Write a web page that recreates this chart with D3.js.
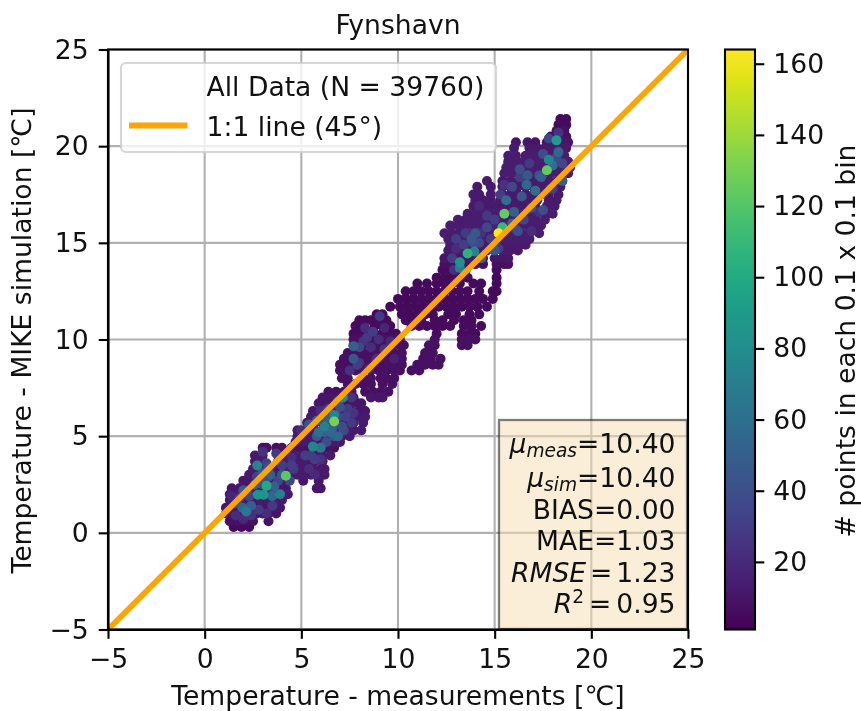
<!DOCTYPE html>
<html>
<head>
<meta charset="utf-8">
<script src="https://cdn.jsdelivr.net/npm/d3@7"></script>
<style>
  html, body { margin: 0; padding: 0; background: #fff; overflow: hidden; }
  svg { display: block; filter: blur(0.5px); }
  text { font-family: "DejaVu Sans", sans-serif; fill: #111; }
</style>
</head>
<body>
<div id="chart"></div>
<script>
// sparse bins, one row per simulated temperature
const rowY = [0.3,0.6,1.0,1.3,1.7,2.0,2.3,2.7,3.0,3.3,3.7,4.0,4.4,4.7,5.0,5.3,5.7,6.0,6.3,6.7,7.0,7.3,7.7,8.0,8.4,8.7,9.0,9.3,9.7,10.0,10.3,10.7,11.0,11.3,11.7,12.1,12.5,12.9,13.2,13.6,13.9,14.2,14.6,14.9,15.2,15.5,15.9,16.2,16.5,16.9,17.2,17.5,17.9,18.2,18.6,18.9,19.2,19.5,19.9,20.2,20.5,20.8,21.1,21.4];
const rowCount = [5,8,10,10,12,12,10,10,12,12,12,12,8,12,12,12,12,12,10,10,10,8,8,8,8,8,8,8,8,8,6,6,6,5,5,5,5,5,5,6,8,10,12,12,14,14,14,14,14,12,12,12,12,12,14,14,14,14,12,10,8,8,6,5];
const rowX = [
  [1.5,1.9,2.3],
  [1.3,1.7,2.1,2.5,3.3],
  [1.1,1.5,1.9,2.3,2.7,3.0,3.3,3.7],
  [1.1,1.5,1.9,2.3,2.7,3.1,3.5,3.9],
  [1.3,1.7,2.1,2.5,2.9,3.3,3.7,4.0],
  [1.3,1.7,2.1,2.5,2.9,3.3,3.7,4.1,4.3],
  [1.4,1.8,2.2,2.6,3.0,3.4,3.8,4.2,5.8,6.0],
  [2.0,2.3,2.7,3.1,3.5,3.9,4.3,5.1,5.9],
  [2.3,2.6,3.0,3.4,3.8,4.2,4.6,4.8,5.1,5.5,5.9,6.2],
  [2.5,2.9,3.3,3.7,4.1,4.5,4.9,5.2,5.6,6.0,6.2],
  [2.6,3.0,3.8,4.2,4.6,5.0,5.3,5.7,6.1],
  [2.6,3.0,3.8,4.2,4.6,5.0,5.3,5.7,6.1,6.5],
  [3.0,3.2,3.7,4.0,4.5,4.9,5.2,5.6,6.0,6.4,6.7],
  [4.7,5.0,5.4,5.8,6.2,6.6,7.0],
  [4.8,5.1,5.5,5.9,6.3,6.7,7.1,7.5],
  [4.8,5.3,5.7,6.1,6.5,6.9,7.3,7.7,8.1],
  [5.3,5.7,6.1,6.5,6.9,7.3,7.7,8.2],
  [5.5,5.9,6.3,6.7,7.1,7.5,7.9,8.3],
  [5.6,6.0,6.4,6.8,7.2,7.6,8.0,8.3],
  [5.9,6.3,6.7,7.1,7.5,7.9,8.1],
  [6.1,6.5,6.9,7.3,7.7,8.6,9.0,9.2],
  [6.4,6.8,7.2,7.6,8.3,8.7,9.1,9.5],
  [7.4,7.8,8.2,8.6,9.2,9.7],
  [7.1,7.4,8.2,8.6,9.1,9.4,9.8],
  [7.0,7.4,7.8,8.2,8.6,9.0,9.4,9.8,10.1,10.7,11.1],
  [7.0,7.4,7.8,8.2,8.6,9.0,9.4,9.8,10.2,11.0,11.4,11.8,12.1],
  [7.2,7.6,8.0,8.4,8.8,9.2,9.6,10.0,10.2,11.3,11.7,12.2],
  [7.4,7.8,8.2,8.6,9.0,9.4,9.8,10.2,11.4,11.8],
  [7.7,8.1,8.5,8.9,9.3,9.7,10.1,10.3,11.6,11.9,13.3,13.6],
  [7.7,8.1,8.5,8.9,9.3,9.7,10.1,11.9,13.3,13.7,14.0],
  [7.7,8.0,8.4,8.8,9.2,9.6,9.9,12.0,13.3,13.7,14.0],
  [7.8,8.1,8.8,9.2,9.6,10.7,11.1,11.5,11.9,12.3,12.7,13.4,13.8,14.3],
  [8.0,8.3,8.6,9.0,9.4,10.4,10.8,11.2,11.9,12.3,12.9,13.4,13.8],
  [8.9,9.2,10.2,10.6,11.0,11.4,11.8,12.6,13.0,13.7,14.2],
  [9.6,10.1,10.5,10.9,11.3,11.7,12.1,12.5,12.9,13.3,13.7,14.1,14.6],
  [10.0,10.4,10.8,11.2,11.6,12.0,12.4,12.8,13.2,13.6,14.0,14.4,14.9],
  [10.4,10.8,11.2,11.6,12.0,12.4,12.8,13.2,13.6,14.2,14.9,15.1],
  [11.0,11.5,12.0,12.4,12.8,13.2,13.9,14.3,15.1],
  [12.0,12.4,12.8,13.2,13.6,15.1],
  [12.3,12.7,13.1,13.5,15.1],
  [12.4,12.8,13.2,13.6,14.0,14.4,15.1,15.5,15.7],
  [12.4,12.8,13.2,13.6,14.0,14.4,15.0,15.4,15.7],
  [12.6,13.0,13.4,13.8,14.2,14.6,15.0,15.4,15.8,16.2],
  [12.7,13.1,13.5,13.9,14.3,14.7,15.1,15.5,15.9,16.3,16.6],
  [12.6,13.0,13.4,13.8,14.2,14.6,15.0,15.4,15.8,16.2,16.6,16.8],
  [12.4,12.8,13.2,13.6,14.0,14.4,14.8,15.2,15.6,16.0,16.4,16.8,17.3],
  [12.7,13.1,13.5,13.9,14.3,14.7,15.1,15.5,15.9,16.3,16.7,17.1,17.4],
  [13.1,13.5,13.9,14.3,14.7,15.1,15.5,15.9,16.3,16.7,17.1,17.6],
  [13.6,14.0,14.4,14.8,15.2,15.6,16.0,16.4,16.8,17.2,17.7,18.0],
  [13.9,14.3,14.7,15.1,15.5,15.9,16.3,16.7,17.1,17.7,18.1],
  [14.0,14.4,14.8,15.3,15.7,16.1,16.5,16.9,17.2,17.8,18.2],
  [13.9,14.2,14.8,15.4,15.8,16.2,16.6,17.0,17.4,17.8,18.3],
  [14.1,14.8,15.4,15.8,16.2,16.6,17.0,17.4,17.8,18.2,18.4],
  [14.6,15.4,15.8,16.2,16.6,17.0,17.4,17.8,18.2,18.5],
  [15.5,15.9,16.3,16.7,17.1,17.5,17.9,18.3,18.8],
  [15.6,16.0,16.4,16.8,17.2,17.6,18.0,18.4,18.9],
  [15.7,16.1,16.5,16.9,17.3,17.7,18.1,18.5,18.8],
  [15.7,16.1,16.6,17.0,17.4,17.8,18.2,18.6],
  [16.0,16.8,17.2,17.6,18.0,18.4,18.7],
  [16.1,16.7,17.1,17.7,18.1,18.5,18.8],
  [17.9,18.3,18.7],
  [18.2,18.6],
  [18.3,18.7],
  [18.4,18.7]
];

const peakX = [4.2,3.2,2.75,3.05,2.72,3.9,2.15,1.95,2.4,3.5,3.6,2.9,3.3,4.0,1.7,2.0,2.6,3.4,3.0,4.5,4.4,
  6.7,6.7,5.6,6.0,6.2,7.15,5.9,6.5,6.9,5.4,6.3,6.7,7.0,5.8,5.2,5.7,6.9,7.4,7.7,
  7.7,7.7,8.0,8.7,9.05,8.4,9.3,7.9,8.9,
  15.2,15.5,15.4,17.7,18.2,13.6,13.2,13.2,13.95,16.65,17.1,17.8,14.3,13.8,14.0,15.6,16.0,15.0,15.9,16.4,17.4,18.0,18.3,16.9,17.5,16.2,14.6,13.4,14.2,15.2,16.7,18.5,17.9,13.0,12.9,16.3,
  1.6,2.0,2.4,2.8,3.2,3.5,1.8,2.3,3.5,3.0,2.7,3.3,3.8,4.0,3.2,3.7,4.6,4.5,3.0,1.4,
  5.4,5.7,5.5,6.0,5.0,5.8,6.3,6.6,7.2,7.6,7.3,6.9,6.4,6.0,7.6,7.1,6.2,
  8.2,8.6,9.0,8.0,7.5,8.5,9.6,8.3,9.3,9.8,
  12.8,13.0,13.5,14.3,14.6,15.0,13.9,14.8,15.9,16.3,16.8,17.3,17.5,18.2,18.5,18.0,17.3,16.5,16.1,16.9,15.5,15.3,14.2,18.3,17.8];
const peakY = [2.95,2.44,1.97,1.97,3.48,2.0,1.1,1.3,1.4,1.9,2.4,2.8,3.4,3.0,1.5,2.2,2.5,3.0,3.1,3.5,2.7,
  5.76,6.1,4.46,4.4,5.5,7.0,5.2,5.2,5.0,5.6,5.9,5.0,6.5,5.8,4.0,3.8,6.0,6.4,6.2,
  9.65,9.0,9.6,10.4,11.2,10.1,9.5,8.7,9.0,
  15.5,16.5,15.8,18.75,20.3,14.45,14.0,13.7,14.55,18.0,17.7,19.3,14.2,15.2,15.5,17.2,16.6,14.6,16.0,17.4,18.4,19.0,19.7,16.8,16.7,15.6,15.8,14.9,15.0,14.7,18.5,18.2,17.8,14.7,13.6,18.8,
  0.9,0.7,0.9,1.2,1.0,1.4,1.8,1.9,2.3,2.5,2.9,2.9,2.7,3.5,3.6,4.1,3.3,3.9,4.2,1.9,
  3.3,3.0,4.0,3.8,5.3,5.0,4.7,5.4,5.3,5.7,6.0,6.8,6.4,6.3,7.0,5.5,5.2,
  9.9,9.6,10.0,8.8,8.4,8.5,9.9,10.6,10.6,9.0,
  14.2,15.2,15.5,15.5,16.4,16.2,15.0,15.2,17.9,18.4,19.1,18.5,19.6,19.4,19.1,17.8,16.6,16.2,15.7,15.6,18.0,17.5,16.9,20.7,20.4];
const peakCount = [123,100,85,85,75,70,65,55,50,55,50,45,40,45,35,45,50,50,45,30,35,
  130,75,75,65,70,80,60,55,55,45,50,45,40,45,30,30,35,28,25,
  50,45,35,30,28,28,25,30,22,
  164,125,110,125,90,105,85,70,75,55,60,75,55,45,45,60,50,45,50,45,50,60,55,40,40,40,35,30,35,30,45,50,35,22,25,40,
  22,20,25,28,22,28,30,35,35,38,32,38,35,30,30,28,28,22,25,18,
  22,20,30,25,22,45,38,50,35,28,32,45,35,22,25,38,50,
  25,22,22,25,25,18,20,22,18,16,
  30,30,28,25,28,30,40,30,35,30,28,40,38,38,35,30,25,35,30,22,25,30,20,25,35];

const meanLabels = ["meas", "sim"];
const meanValues = ["10.40", "10.40"];
const statNames = ["BIAS", "MAE"];
const statValues = ["0.00", "1.03"];
const rmseValue = "1.23";
const r2Value = "0.95";

const axisTicks = [-5, 0, 5, 10, 15, 20, 25];
const colorTicks = [20, 40, 60, 80, 100, 120, 140, 160];
const oneToOne = [-5, 25];

const width = 861,
  height = 711,
  fontSize = 26.6,
  lw = 2.1,
  plot = { left: 108, right: 688, top: 49.5, bottom: 629.5 },
  bar = { left: 725, right: 755 };

const x = d3.scaleLinear().domain([-5, 25]).range([plot.left, plot.right]),
  y = d3.scaleLinear().domain([-5, 25]).range([plot.bottom, plot.top]),
  cy = d3.scaleLinear().domain([1, 164]).range([plot.bottom, plot.top]),
  color = d3.scaleSequential(d3.interpolateViridis).domain([1, 164]);

const svg = d3.select("#chart").append("svg")
  .attr("width", width)
  .attr("height", height);

const defs = svg.append("defs");
defs.append("clipPath").attr("id", "clip")
  .append("rect")
  .attr("x", plot.left).attr("y", plot.top)
  .attr("width", plot.right - plot.left)
  .attr("height", plot.bottom - plot.top);
const grad = defs.append("linearGradient").attr("id", "viridis")
  .attr("x1", 0).attr("x2", 0).attr("y1", 1).attr("y2", 0);
grad.selectAll("stop").data(d3.range(0, 1.001, 0.05)).join("stop")
  .attr("offset", d => d)
  .attr("stop-color", d => d3.interpolateViridis(d));

// grid
const grid = svg.append("g").attr("stroke", "#b0b0b0").attr("stroke-width", lw);
grid.selectAll(".gx").data(axisTicks).join("line")
  .attr("x1", d => x(d)).attr("x2", d => x(d))
  .attr("y1", plot.top).attr("y2", plot.bottom);
grid.selectAll(".gy").data(axisTicks).join("line")
  .attr("y1", d => y(d)).attr("y2", d => y(d))
  .attr("x1", plot.left).attr("x2", plot.right);

// points, densest on top
const points = rowY.flatMap((v, i) => rowX[i].map(m => ({ x: m, y: v, n: rowCount[i] })))
  .concat(peakX.map((m, i) => ({ x: m, y: peakY[i], n: peakCount[i] })))
  .sort((a, b) => a.n - b.n);

svg.append("g").attr("clip-path", "url(#clip)")
  .selectAll("circle").data(points).join("circle")
  .attr("cx", d => x(d.x))
  .attr("cy", d => y(d.y))
  .attr("r", 5)
  .attr("fill", d => color(d.n));

// 1:1 line
svg.append("line")
  .attr("clip-path", "url(#clip)")
  .attr("x1", x(oneToOne[0])).attr("y1", y(oneToOne[0]))
  .attr("x2", x(oneToOne[1])).attr("y2", y(oneToOne[1]))
  .attr("stroke", "orange")
  .attr("stroke-width", 5.8);

// stats box
svg.append("rect")
  .attr("x", 499).attr("y", 420)
  .attr("width", 188).attr("height", 209)
  .attr("fill", "wheat").attr("fill-opacity", 0.5)
  .attr("stroke", "#000").attr("stroke-opacity", 0.5).attr("stroke-width", 2.3);

const stats = svg.append("g")
  .attr("text-anchor", "end")
  .attr("font-size", fontSize);
const statX = 675.5;

[453, 486.5].forEach((b, i) => {
  const t = stats.append("text").attr("x", statX).attr("y", b);
  t.append("tspan").attr("font-style", "italic").text("μ");
  t.append("tspan").attr("font-style", "italic").attr("font-size", fontSize * 0.7).attr("dy", 4).text(meanLabels[i]);
  t.append("tspan").attr("dy", -4).text("=" + meanValues[i]);
});
[518.5, 550].forEach((b, i) => {
  stats.append("text").attr("x", statX).attr("y", b).text(statNames[i] + "=" + statValues[i]);
});
// mathtext spaces are narrower than a normal word space
const rm = stats.append("text").attr("x", statX).attr("y", 581.5).style("word-spacing", "-4.5px");
rm.append("tspan").attr("font-style", "italic").text("RMSE");
rm.append("tspan").text(" = " + rmseValue);
const r2 = stats.append("text").attr("x", statX).attr("y", 612.5).style("word-spacing", "-3.5px");
r2.append("tspan").attr("font-style", "italic").text("R");
r2.append("tspan").attr("font-size", fontSize * 0.7).attr("dy", -10).text("2");
r2.append("tspan").attr("dy", 10).text(" = " + r2Value);

// legend
svg.append("rect")
  .attr("x", 121).attr("y", 63)
  .attr("width", 375).attr("height", 89)
  .attr("rx", 5)
  .attr("fill", "#fff").attr("fill-opacity", 0.8)
  .attr("stroke", "#ccc").attr("stroke-opacity", 0.8).attr("stroke-width", lw);
svg.append("line")
  .attr("x1", 129).attr("x2", 187.5)
  .attr("y1", 125.5).attr("y2", 125.5)
  .attr("stroke", "orange").attr("stroke-width", 5.8);
svg.append("text").attr("x", 206.5).attr("y", 96).attr("font-size", fontSize).text("All Data (N = 39760)");
svg.append("text").attr("x", 206.5).attr("y", 136).attr("font-size", fontSize).text("1:1 line (45°)");

// axes
const styleAxis = g => {
  g.attr("font-size", fontSize).attr("font-family", null);
  g.selectAll("line").attr("stroke", "#000").attr("stroke-width", lw);
  g.selectAll("path").attr("stroke", "#000").attr("stroke-width", lw);
  g.selectAll("text").attr("fill", "#111");
};

svg.append("g")
  .attr("transform", `translate(0,${plot.bottom})`)
  .call(d3.axisBottom(x).tickValues(axisTicks).tickSize(9.3).tickPadding(10).tickSizeOuter(0))
  .call(styleAxis);
svg.append("g")
  .attr("transform", `translate(${plot.left},0)`)
  .call(d3.axisLeft(y).tickValues(axisTicks).tickSize(9.3).tickPadding(10).tickSizeOuter(0))
  .call(styleAxis);

svg.append("rect")
  .attr("x", plot.left).attr("y", plot.top)
  .attr("width", plot.right - plot.left)
  .attr("height", plot.bottom - plot.top)
  .attr("fill", "none").attr("stroke", "#000").attr("stroke-width", lw);

// colorbar
svg.append("rect")
  .attr("x", bar.left).attr("y", plot.top)
  .attr("width", bar.right - bar.left)
  .attr("height", plot.bottom - plot.top)
  .attr("fill", "url(#viridis)")
  .attr("stroke", "#000").attr("stroke-width", lw);
svg.append("g")
  .attr("transform", `translate(${bar.right},0)`)
  .call(d3.axisRight(cy).tickValues(colorTicks).tickFormat(d3.format("d")).tickSize(9.3).tickPadding(9).tickSizeOuter(0))
  .call(styleAxis)
  .call(g => g.select(".domain").remove());

// titles
svg.append("text").attr("x", 398).attr("y", 34)
  .attr("text-anchor", "middle").attr("font-size", fontSize).text("Fynshavn");
svg.append("text").attr("x", 398).attr("y", 705)
  .attr("text-anchor", "middle").attr("font-size", fontSize).text("Temperature - measurements [℃]");
svg.append("text")
  .attr("transform", "translate(31,340.5) rotate(-90)")
  .attr("text-anchor", "middle").attr("font-size", fontSize).text("Temperature - MIKE simulation [℃]");
svg.append("text")
  .attr("transform", "translate(855,341) rotate(-90)")
  .attr("text-anchor", "middle").attr("font-size", fontSize).text("# points in each 0.1 x 0.1 bin");
</script>
</body>
</html>
